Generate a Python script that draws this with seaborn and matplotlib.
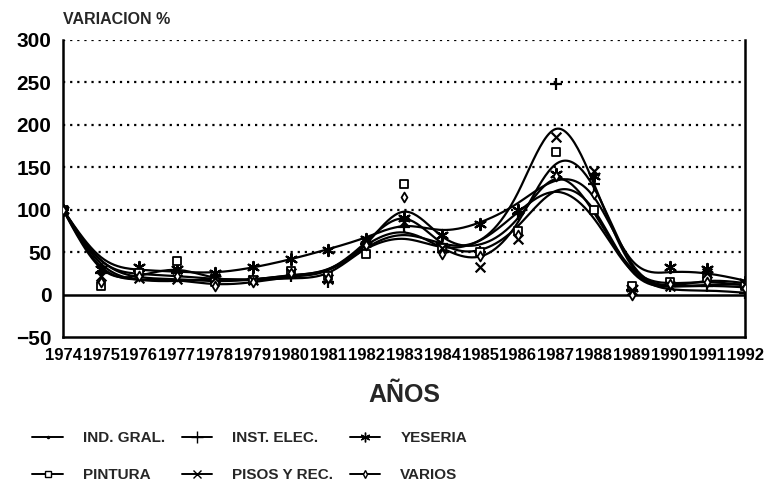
import numpy as np
import pandas as pd
import matplotlib
matplotlib.use("Agg")
import matplotlib.pyplot as plt
import seaborn as sns
from matplotlib.lines import Line2D

years = list(range(1974, 1993))
ind_gral = [100, 28, 22, 22, 15, 18, 25, 22, 58, 75, 50, 55, 95, 135, 100, 8, 12, 15, 12]
inst_elec = [100, 25, 28, 25, 18, 18, 22, 15, 60, 80, 60, 50, 95, 248, 130, 5, 10, 10, 2]
yeseria = [100, 30, 33, 30, 25, 32, 42, 53, 65, 90, 70, 83, 100, 142, 140, 8, 32, 30, 15]
pintura = [100, 10, 25, 40, 15, 17, 28, 22, 48, 130, 55, 50, 75, 168, 100, 10, 15, 20, 10]
pisos = [100, 22, 20, 18, 20, 17, 25, 18, 62, 85, 55, 32, 65, 185, 145, 5, 10, 25, 12]
varios = [100, 15, 22, 22, 10, 15, 25, 20, 58, 115, 48, 45, 70, 140, 118, 0, 12, 15, 8]

series_names = ["IND. GRAL.", "INST. ELEC.", "YESERIA", "PINTURA", "PISOS Y REC.", "VARIOS"]
series_vals = [ind_gral, inst_elec, yeseria, pintura, pisos, varios]
yticks = [-50, 0, 50, 100, 150, 200, 250, 300]

markers = {"IND. GRAL.": ".", "INST. ELEC.": "+", "YESERIA": (6, 2, 0),
           "PINTURA": "s", "PISOS Y REC.": "x", "VARIOS": "d"}
msizes = {"IND. GRAL.": 3, "INST. ELEC.": 9, "YESERIA": 8, "PINTURA": 6,
          "PISOS Y REC.": 7, "VARIOS": 5}


def whittaker(y, lam):
    y = np.asarray(y, float)
    n = len(y)
    D = np.diff(np.eye(n), 2, axis=0)
    w = np.ones(n)
    w[0] = 50.0
    W = np.diag(w)
    return np.linalg.solve(W + lam * D.T @ D, W @ y)


def natural_spline(x, y, xs):
    x = np.asarray(x, float); y = np.asarray(y, float)
    n = len(x)
    h = np.diff(x)
    A = np.zeros((n, n)); r = np.zeros(n)
    A[0, 0] = 1; A[-1, -1] = 1
    for i in range(1, n - 1):
        A[i, i - 1] = h[i - 1]
        A[i, i] = 2 * (h[i - 1] + h[i])
        A[i, i + 1] = h[i]
        r[i] = 6 * ((y[i + 1] - y[i]) / h[i] - (y[i] - y[i - 1]) / h[i - 1])
    M = np.linalg.solve(A, r)
    idx = np.clip(np.searchsorted(x, xs) - 1, 0, n - 2)
    x0 = x[idx]; x1 = x[idx + 1]; hh = x1 - x0
    a = (x1 - xs) / hh; b = (xs - x0) / hh
    return (a * y[idx] + b * y[idx + 1]
            + ((a ** 3 - a) * M[idx] + (b ** 3 - b) * M[idx + 1]) * hh ** 2 / 6)


sns.set_style("white")
plt.rcParams["font.family"] = ["Liberation Sans", "DejaVu Sans"]
plt.rcParams["font.weight"] = "bold"

fig = plt.figure(figsize=(7.7, 4.92), dpi=100)
ax = fig.add_axes([0.082, 0.315, 0.886, 0.604])

pts = pd.DataFrame({"year": np.tile(years, len(series_names)),
                    "value": np.concatenate(series_vals),
                    "serie": np.repeat(series_names, len(years))})

xs = np.linspace(years[0], years[-1], 400)
curves = []
for name, vals in zip(series_names, series_vals):
    z = whittaker(vals, 0.2)
    curves.append(pd.DataFrame({"year": xs, "value": natural_spline(years, z, xs), "serie": name}))
curves = pd.concat(curves)

sns.lineplot(data=curves, x="year", y="value", units="serie", estimator=None,
             color="black", lw=1.6, ax=ax, legend=False)

for name in series_names:
    sub = pts[pts.serie == name]
    m = markers[name]
    filled = m not in ("+", "x", (6, 2, 0))
    kw = dict(facecolor="white", edgecolor="black", linewidth=1.3) if filled else dict(color="black", linewidth=1.6)
    if name == "IND. GRAL.":
        kw = dict(color="black", linewidth=0)
    sns.scatterplot(data=sub, x="year", y="value", marker=m, s=msizes[name] ** 2,
                    ax=ax, legend=False, zorder=5, **kw)

ax.set_xlim(years[0], years[-1])
ax.set_ylim(-50, 300)
ax.set_yticks(yticks)
ax.set_xticks(years)
ax.set_xticklabels([str(y) for y in years])
ax.tick_params(axis="both", length=5, width=1.5, colors="black", direction="out")
ax.tick_params(axis="y", labelsize=15)
ax.tick_params(axis="x", labelsize=12, pad=3)
for lab in ax.get_xticklabels() + ax.get_yticklabels():
    lab.set_fontweight("bold")

for v in [50, 100, 150, 200, 250, 300]:
    ax.axhline(v, color="black", ls=(0, (1, 2.2)), lw=1.6, zorder=1)
ax.axhline(0, color="black", lw=1.8, zorder=1)

for s in ["left", "bottom", "right"]:
    ax.spines[s].set_visible(True)
    ax.spines[s].set_color("black")
    ax.spines[s].set_linewidth(1.8)
ax.spines["top"].set_visible(False)

ax.set_xlabel("AÑOS", fontsize=18, fontweight="bold", labelpad=14)
ax.set_ylabel("")
fig.text(0.082, 0.945, "VARIACION %", fontsize=11.5, fontweight="bold", ha="left", va="bottom")

handles = []
for name in series_names:
    m = markers[name]
    filled = m not in ("+", "x", (6, 2, 0))
    handles.append(Line2D([0], [0], color="black", lw=1.4, marker=m,
                          markersize=max(msizes[name] - 1, 3),
                          markerfacecolor="white" if filled and name != "IND. GRAL." else "black",
                          markeredgecolor="black"))
order = [0, 3, 1, 4, 2, 5]
leg = fig.legend([handles[i] for i in order], [series_names[i] for i in order],
                 ncol=3, loc="upper left", bbox_to_anchor=(0.034, 0.136), borderaxespad=0,
                 frameon=False, prop={"size": 11, "weight": "bold"},
                 handlelength=2.0, columnspacing=1.1, labelspacing=1.5, handletextpad=1.3)

fig.savefig("out.png", dpi=100)
